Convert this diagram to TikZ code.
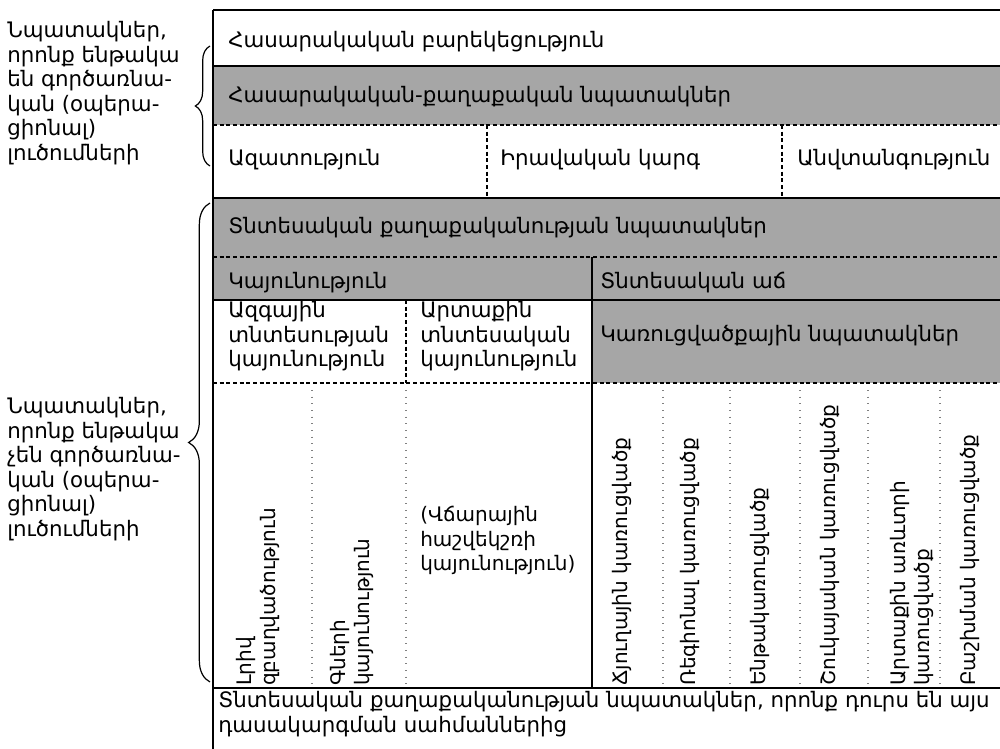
\documentclass[tikz,border=0pt]{standalone}
\usepackage{fontspec}
\setmainfont{DejaVu Sans}
\usetikzlibrary{
    decorations.pathreplacing,% For the braces
    positioning               % For label positioning
}
\definecolor{cellgray}{RGB}{166,166,166}

\begin{document}
\begin{tikzpicture}[
    x=0.75pt, y=-0.75pt, % One unit is one pixel, y runs down
    txt/.style={anchor=base west, inner sep=0pt, font=\fontsize{16}{18.4}\selectfont},
    blocktxt/.style={anchor=north west, inner sep=0pt, align=left, font=\fontsize{16}{18.4}\selectfont},
    smalltxt/.style={blocktxt, font=\fontsize{15}{18.4}\selectfont},
    vtxt/.style={anchor=west, rotate=90, inner sep=0pt, align=left, font=\fontsize{15}{18.4}\selectfont},
    frame/.style={line width=1.3pt},
    rule/.style={line width=0.9pt},
    dashrule/.style={line width=0.9pt, dash pattern=on 3pt off 2pt},
    dotrule/.style={line width=0.8pt, gray, dash pattern=on 0.8pt off 4.2pt},
    bracket/.style={line width=0.9pt, decorate, decoration={brace, amplitude=#1}}
]
    \useasboundingbox (0,0) rectangle (1000,749);

    % Gray cells
    \fill[cellgray] (213,66) rectangle (1000,125);
    \fill[cellgray] (213,198) rectangle (1000,300);
    \fill[cellgray] (592,300) rectangle (1000,383);

    % Horizontal rules
    \draw[frame] (213,10) -- (1000,10);
    \draw[rule] (213,66) -- (1000,66);
    \draw[dashrule] (213,125) -- (1000,125);
    \draw[frame] (213,198) -- (1000,198);
    \draw[dashrule] (213,257) -- (1000,257);
    \draw[rule] (213,300) -- (1000,300);
    \draw[dashrule] (213,383) -- (1000,383);
    \draw[rule] (213,688) -- (1000,688);

    % Vertical rules
    \draw[frame] (213,10) -- (213,749);
    \draw[dashrule] (487,125) -- (487,198);
    \draw[dashrule] (782,125) -- (782,198);
    \draw[rule] (592,257) -- (592,688);
    \draw[dashrule] (406,300) -- (406,383);
    \foreach \x in {312,406,663,730,800,868,940}
        \draw[dotrule] (\x,390) -- (\x,686);

    % Rows above the economic goals
    \node[txt] (welfare) at (228,48) {Հասարակական բարեկեցություն};
    \node[txt] (sociopol) at (228,103) {Հասարակական-քաղաքական նպատակներ};
    \node[txt] (freedom) at (228,166) {Ազատություն};
    \node[txt] (law) at (500,166) {Իրավական կարգ};
    \node[txt] (security) at (797,166) {Անվտանգություն};

    % Economic policy goals
    \node[txt] (econ) at (228,233) {Տնտեսական քաղաքականության նպատակներ};
    \node[txt] (stability) at (228,288) {Կայունություն};
    \node[txt] (growth) at (600,288) {Տնտեսական աճ};
    \node[blocktxt] (inner) at (228,301) {Ազգային\\տնտեսության\\կայունություն};
    \node[blocktxt] (outer) at (420,301) {Արտաքին\\տնտեսական\\կայունություն};
    \node[txt] (struct) at (600,341) {Կառուցվածքային նպատակներ};

    % Columns of the lower block
    \node[vtxt] (employ) at (258,686) {Լրիվ\\զբաղվածություն};
    \node[vtxt] (prices) at (352,686) {Գների\\կայունություն};
    \node[smalltxt] (balance) at (420,506) {(Վճարային\\հաշվեկշռի\\կայունություն)};
    \node[vtxt] (branch) at (622,686) {Ճյուղային կառուցվածք};
    \node[vtxt] (region) at (690,686) {Ռեգիոնալ կառուցվածք};
    \node[vtxt] (infra) at (760,686) {Ենթակառուցվածք};
    \node[vtxt] (market) at (830,686) {Շուկայական կառուցվածք};
    \node[vtxt] (trade) at (912,686) {Արտաքին առևտրի\\կառուցվածք};
    \node[vtxt] (distrib) at (970,686) {Բաշխման կառուցվածք};

    % Bottom row
    \node[blocktxt] (outside) at (218,691) {Տնտեսական քաղաքականության նպատակներ, որոնք դուրս են այս\\դասակարգման սահմաններից};

    % Side notes with braces
    \node[blocktxt] (oper) at (7,21) {Նպատակներ,\\որոնք ենթակա\\են գործառնա-\\կան (օպերա-\\ցիոնալ)\\լուծումների};
    \node[blocktxt] (nonoper) at (7,397) {Նպատակներ,\\որոնք ենթակա\\չեն գործառնա-\\կան (օպերա-\\ցիոնալ)\\լուծումների};
    \draw[bracket=11pt] (210,166) -- (210,46);
    \draw[bracket=16pt] (210,682) -- (210,203);

\end{tikzpicture}
\end{document}
